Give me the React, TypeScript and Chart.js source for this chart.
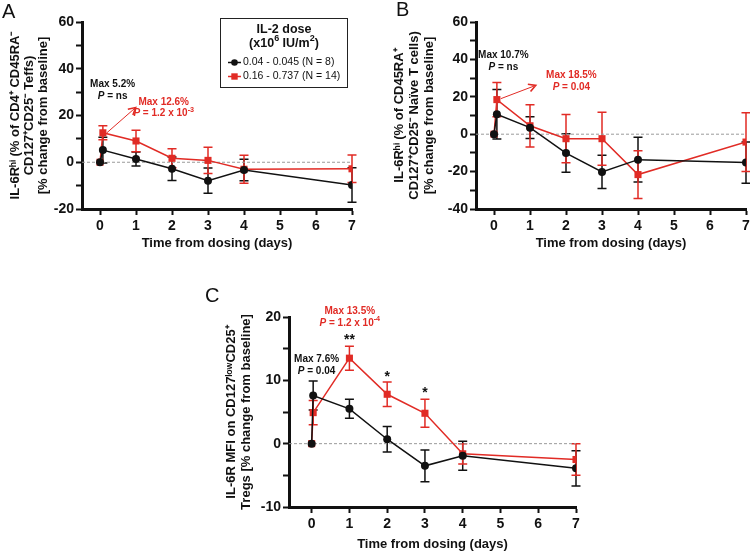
import React, { useEffect, useRef } from 'react';
import { Chart, registerables } from 'chart.js';

Chart.register(...registerables);

const FONT = "'Liberation Sans', Arial, Helvetica, sans-serif";
Chart.defaults.font.family = FONT;

const BLACK = '#111111';
const RED = '#e12b25';
const ZERO = '#9a9a9a';

// ---------- data ----------
const daysAB = [0, 0.08, 1, 2, 3, 4, 7];
const daysC = [0, 0.04, 1, 2, 3, 4, 7];
const xTickValues = [0, 1, 2, 3, 4, 5, 6, 7];

const doseLabels = ['0.04 - 0.045', '0.16 - 0.737'];
const groupN = [8, 14];

// Panel A: IL-6Rhi % of CD4+ CD45RA- CD127+CD25- Teffs
const aLowMean = [0, 5.2, 1.4, -2.8, -7.9, -3.3, -9.7];
const aLowSem = [0, 5.5, 3.0, 5.0, 5.4, 4.6, 7.4];
const aHighMean = [0, 12.6, 9.1, 1.7, 0.8, -3.0, -2.8];
const aHighSem = [0, 3.0, 4.6, 4.1, 5.6, 6.0, 5.9];

// Panel B: IL-6Rhi % of CD45RA+ CD127+CD25- naive T cells
const bLowMean = [0, 10.7, 3.5, -10.1, -20.2, -13.6, -15.2];
const bLowSem = [0, 13.2, 5.8, 10.3, 8.9, 12.0, 11.0];
const bHighMean = [0, 18.5, 4.5, -2.4, -2.4, -21.6, -4.2];
const bHighSem = [0, 9.2, 11.3, 12.9, 14.2, 12.8, 15.7];

// Panel C: IL-6R MFI on CD127low CD25+ Tregs
const cLowMean = [0, 7.6, 5.5, 0.7, -3.5, -1.9, -3.9];
const cLowSem = [0, 2.3, 1.5, 2.0, 2.5, 2.3, 2.8];
const cHighMean = [0, 4.9, 13.5, 7.8, 4.8, -1.6, -2.5];
const cHighSem = [0, 1.9, 1.9, 1.95, 2.2, 1.6, 2.5];

// ---------- types ----------
type Seg = { t: string; i?: boolean; sup?: boolean };
type Note = { x: number; y: number; color: string; lines: Seg[][]; size?: number; dy?: number };
type Arrow = { x1: number; y1: number; x2: number; y2: number; color: string };

type PanelCfg = {
  letter: string;
  letterPos: [number, number];
  box: { left: number; top: number; width: number; height: number };
  pad: { top: number; right: number; bottom: number; left: number };
  yWidth: number;
  xHeight: number;
  yMin: number; yMax: number; yStep: number; yLabelStep: number;
  xMin: number; xMax: number;
  yTitle: string[]; yTitlePadTop: number; yTitleLH: number;
  xTitlePadBottom: number; xTickPad: number;
  days: number[];
  lowMean: number[]; lowSem: number[];
  highMean: number[]; highSem: number[];
  notes: Note[];
  arrows: Arrow[];
  legend: boolean;
};

const P: Seg = { t: 'P', i: true };

const panels: PanelCfg[] = [
  {
    letter: 'A', letterPos: [2, 12.5],
    box: { left: 0, top: 0, width: 375, height: 265 },
    pad: { top: 22, right: 23, bottom: 0, left: 0 },
    yWidth: 82, xHeight: 56,
    yMin: -20, yMax: 60, yStep: 10, yLabelStep: 20,
    xMin: -0.5, xMax: 7,
    yTitle: ['IL-6Rʰⁱ (% of CD4⁺ CD45RA⁻', 'CD127⁺CD25⁻ Teffs)', '[% change from baseline]'],
    yTitlePadTop: 8, yTitleLH: 14,
    xTitlePadBottom: 14, xTickPad: 3,
    days: daysAB,
    lowMean: aLowMean, lowSem: aLowSem, highMean: aHighMean, highSem: aHighSem,
    notes: [
      { x: 0.35, y: 33.2, color: BLACK, lines: [[{ t: 'Max 5.2%' }], [P, { t: ' = ns' }]] },
      { x: 1.77, y: 25.8, color: RED, lines: [[{ t: 'Max 12.6%' }], [P, { t: ' = 1.2 x 10' }, { t: '-3', sup: true }]] },
    ],
    arrows: [{ x1: 0.19, y1: 12.6, x2: 0.99, y2: 23.4, color: RED }],
    legend: true,
  },
  {
    letter: 'B', letterPos: [21, 10],
    box: { left: 375, top: 0, width: 385, height: 265 },
    pad: { top: 22, right: 14, bottom: 0, left: 0 },
    yWidth: 101, xHeight: 56,
    yMin: -40, yMax: 60, yStep: 10, yLabelStep: 20,
    xMin: -0.5, xMax: 7,
    yTitle: ['IL-6Rʰⁱ (% of CD45RA⁺', 'CD127⁺CD25⁻ Naïve T cells)', '[% change from baseline]'],
    yTitlePadTop: 17, yTitleLH: 15,
    xTitlePadBottom: 14, xTickPad: 3,
    days: daysAB,
    lowMean: bLowMean, lowSem: bLowSem, highMean: bHighMean, highSem: bHighSem,
    notes: [
      { x: 0.26, y: 42.2, color: BLACK, lines: [[{ t: 'Max 10.7%' }], [P, { t: ' = ns' }]] },
      { x: 2.15, y: 31.4, color: RED, lines: [[{ t: 'Max 18.5%' }], [P, { t: ' = 0.04' }]] },
    ],
    arrows: [{ x1: 0.19, y1: 19.0, x2: 1.16, y2: 26.1, color: RED }],
    legend: false,
  },
  {
    letter: 'C', letterPos: [10, 11],
    box: { left: 195, top: 285, width: 400, height: 267 },
    pad: { top: 32, right: 19, bottom: 0, left: 0 },
    yWidth: 94, xHeight: 45,
    yMin: -10, yMax: 20, yStep: 5, yLabelStep: 10,
    xMin: -0.6, xMax: 7,
    yTitle: ['IL-6R MFI on CD127ˡᵒʷCD25⁺', 'Tregs [% change from baseline]'],
    yTitlePadTop: 28.5, yTitleLH: 15,
    xTitlePadBottom: 0, xTickPad: 3,
    days: daysC,
    lowMean: cLowMean, lowSem: cLowSem, highMean: cHighMean, highSem: cHighSem,
    notes: [
      { x: 1.01, y: 20.9, color: RED, lines: [[{ t: 'Max 13.5%' }], [P, { t: ' = 1.2 x 10' }, { t: '-4', sup: true }]] },
      { x: 0.13, y: 13.3, color: BLACK, lines: [[{ t: 'Max 7.6%' }], [P, { t: ' = 0.04' }]] },
      { x: 1, y: 16.9, color: BLACK, lines: [[{ t: '**' }]], size: 14, dy: 4 },
      { x: 2, y: 11.2, color: BLACK, lines: [[{ t: '*' }]], size: 14, dy: 4 },
      { x: 3, y: 8.6, color: BLACK, lines: [[{ t: '*' }]], size: 14, dy: 4 },
    ],
    arrows: [],
    legend: false,
  },
];

// ---------- drawing helpers ----------
function segFont(s: Seg, size: number, bold: boolean) {
  const sz = s.sup ? size * 0.72 : size;
  return `${s.i ? 'italic ' : ''}${bold ? 'bold ' : ''}${sz}px ${FONT}`;
}

function drawRich(ctx: CanvasRenderingContext2D, line: Seg[], x0: number, y: number, size: number, color: string, bold: boolean, align: 'center' | 'left') {
  ctx.save();
  ctx.textBaseline = 'middle';
  ctx.textAlign = 'left';
  ctx.fillStyle = color;
  const widths = line.map((s) => {
    ctx.font = segFont(s, size, bold);
    return ctx.measureText(s.t).width;
  });
  const total = widths.reduce((a, b) => a + b, 0);
  let x = align === 'center' ? x0 - total / 2 : x0;
  line.forEach((s, k) => {
    ctx.font = segFont(s, size, bold);
    ctx.fillText(s.t, x, s.sup ? y - size * 0.38 : y);
    x += widths[k];
  });
  ctx.restore();
}

const errorBarPlugin = {
  id: 'errorBars',
  beforeDatasetsDraw(chart: any) {
    const ctx: CanvasRenderingContext2D = chart.ctx;
    const xs = chart.scales.x;
    const ys = chart.scales.y;
    chart.data.datasets.forEach((ds: any, i: number) => {
      const errs: number[] | undefined = ds.errors;
      if (!errs || !chart.isDatasetVisible(i)) return;
      ctx.save();
      ctx.strokeStyle = ds.borderColor;
      ctx.lineWidth = 1.5;
      ds.data.forEach((p: { x: number; y: number }, j: number) => {
        const e = errs[j];
        if (!e) return;
        const x = xs.getPixelForValue(p.x);
        const yt = ys.getPixelForValue(p.y + e);
        const yb = ys.getPixelForValue(p.y - e);
        ctx.beginPath();
        ctx.moveTo(x, yt); ctx.lineTo(x, yb);
        ctx.moveTo(x - 4.5, yt); ctx.lineTo(x + 4.5, yt);
        ctx.moveTo(x - 4.5, yb); ctx.lineTo(x + 4.5, yb);
        ctx.stroke();
      });
      ctx.restore();
    });
  },
};

function makeDecorPlugin(cfg: PanelCfg) {
  return {
    id: 'decor',
    afterDraw(chart: any) {
      const ctx: CanvasRenderingContext2D = chart.ctx;
      const xs = chart.scales.x;
      const ys = chart.scales.y;
      // panel letter
      ctx.save();
      ctx.font = `20px ${FONT}`;
      ctx.fillStyle = BLACK;
      ctx.textBaseline = 'middle';
      ctx.textAlign = 'left';
      ctx.fillText(cfg.letter, cfg.letterPos[0], cfg.letterPos[1]);
      ctx.restore();
      // annotations
      cfg.notes.forEach((n) => {
        const size = n.size ?? 10;
        const cx = xs.getPixelForValue(n.x);
        const cy = ys.getPixelForValue(n.y) + (n.dy ?? 0);
        n.lines.forEach((line, li) => drawRich(ctx, line, cx, cy + li * 11.5, size, n.color, true, 'center'));
      });
      // arrows
      cfg.arrows.forEach((a) => {
        const x1 = xs.getPixelForValue(a.x1), y1 = ys.getPixelForValue(a.y1);
        const x2 = xs.getPixelForValue(a.x2), y2 = ys.getPixelForValue(a.y2);
        const ang = Math.atan2(y2 - y1, x2 - x1);
        ctx.save();
        ctx.strokeStyle = a.color;
        ctx.lineWidth = 1;
        ctx.beginPath(); ctx.moveTo(x1, y1); ctx.lineTo(x2, y2); ctx.stroke();
        ctx.lineWidth = 1.6;
        ctx.beginPath();
        ctx.moveTo(x2 - 8 * Math.cos(ang - 0.5), y2 - 8 * Math.sin(ang - 0.5));
        ctx.lineTo(x2, y2);
        ctx.lineTo(x2 - 8 * Math.cos(ang + 0.5), y2 - 8 * Math.sin(ang + 0.5));
        ctx.stroke();
        ctx.restore();
      });
      // legend
      if (cfg.legend) {
        const bx = 220.5, by = 18.5, bw = 127, bh = 69;
        ctx.save();
        ctx.strokeStyle = '#222';
        ctx.lineWidth = 1;
        ctx.strokeRect(bx, by, bw, bh);
        ctx.restore();
        const cxm = bx + bw / 2;
        drawRich(ctx, [{ t: 'IL-2 dose' }], cxm, 29.5, 12.5, BLACK, true, 'center');
        drawRich(ctx, [{ t: '(x10' }, { t: '6', sup: true }, { t: ' IU/m' }, { t: '2', sup: true }, { t: ')' }], cxm, 43.5, 12.5, BLACK, true, 'center');
        const rows = [62.5, 76.5];
        chart.data.datasets.slice(0, 2).forEach((ds: any, k: number) => {
          const y = rows[k];
          ctx.save();
          ctx.strokeStyle = ds.borderColor;
          ctx.fillStyle = ds.borderColor;
          ctx.lineWidth = 1.5;
          ctx.beginPath(); ctx.moveTo(228, y); ctx.lineTo(241, y); ctx.stroke();
          ctx.beginPath();
          if (ds.pointStyle === 'rect') ctx.rect(234.5 - 3.2, y - 3.2, 6.4, 6.4);
          else ctx.arc(234.5, y, 3.3, 0, Math.PI * 2);
          ctx.fill();
          ctx.restore();
          drawRich(ctx, [{ t: ds.dose }], 243, y, 10.5, BLACK, false, 'left');
          drawRich(ctx, [{ t: `(N = ${ds.n})` }], 302, y, 10.5, BLACK, false, 'left');
        });
      }
    },
  };
}

function buildConfig(cfg: PanelCfg): any {
  const tickFont = { size: 14, weight: 'bold' as const };
  const gridOpts = {
    display: true,
    drawOnChartArea: false,
    drawTicks: true,
    tickLength: 6,
    tickWidth: 2,
    tickColor: BLACK,
  };
  const borderOpts = { display: true, color: BLACK, width: 3 };
  return {
    type: 'line',
    data: {
      datasets: [
        {
          label: `${doseLabels[0]} (N = ${groupN[0]})`,
          dose: doseLabels[0], n: groupN[0],
          data: cfg.days.map((d, i) => ({ x: d, y: cfg.lowMean[i] })),
          errors: cfg.lowSem,
          borderColor: BLACK, backgroundColor: BLACK,
          borderWidth: 1.5, tension: 0,
          pointStyle: 'circle', pointRadius: 4, pointBorderWidth: 0,
          pointBackgroundColor: BLACK,
        },
        {
          label: `${doseLabels[1]} (N = ${groupN[1]})`,
          dose: doseLabels[1], n: groupN[1],
          data: cfg.days.map((d, i) => ({ x: d, y: cfg.highMean[i] })),
          errors: cfg.highSem,
          borderColor: RED, backgroundColor: RED,
          borderWidth: 1.5, tension: 0,
          pointStyle: 'rect', pointRadius: 5, pointBorderWidth: 0,
          pointBackgroundColor: RED,
        },
        {
          label: 'baseline',
          data: [{ x: cfg.xMin, y: 0 }, { x: cfg.xMax, y: 0 }],
          borderColor: ZERO, borderWidth: 1, borderDash: [3, 2],
          pointRadius: 0, tension: 0,
        },
      ],
    },
    options: {
      responsive: false,
      maintainAspectRatio: false,
      animation: false,
      devicePixelRatio: 1,
      layout: { padding: cfg.pad },
      plugins: { legend: { display: false }, tooltip: { enabled: false } },
      scales: {
        x: {
          type: 'linear',
          min: cfg.xMin,
          max: cfg.xMax,
          afterBuildTicks: (s: any) => { s.ticks = xTickValues.map((v) => ({ value: v })); },
          afterFit: (s: any) => { s.height = cfg.xHeight; },
          ticks: { font: tickFont, color: BLACK, padding: cfg.xTickPad, autoSkip: false, maxRotation: 0, callback: (v: any) => String(v) },
          grid: gridOpts,
          border: borderOpts,
          title: {
            display: true,
            text: 'Time from dosing (days)',
            color: BLACK,
            font: { size: 13, weight: 'bold' },
            padding: { top: 0, bottom: cfg.xTitlePadBottom },
          },
        },
        y: {
          min: cfg.yMin,
          max: cfg.yMax,
          afterFit: (s: any) => { s.width = cfg.yWidth; },
          ticks: {
            stepSize: cfg.yStep,
            autoSkip: false,
            font: tickFont,
            color: BLACK,
            padding: 2,
            callback: (v: any) => (Math.abs(Number(v) % cfg.yLabelStep) < 1e-9 ? String(v) : ''),
          },
          grid: gridOpts,
          border: borderOpts,
          title: {
            display: true,
            text: cfg.yTitle,
            color: BLACK,
            font: { size: 13, weight: 'bold', lineHeight: `${cfg.yTitleLH}px` },
            padding: { top: cfg.yTitlePadTop, bottom: 0 },
          },
        },
      },
    },
    plugins: [errorBarPlugin, makeDecorPlugin(cfg)],
  };
}

function Panel({ cfg }: { cfg: PanelCfg }) {
  const ref = useRef<HTMLCanvasElement>(null);
  useEffect(() => {
    if (!ref.current) return;
    const chart = new Chart(ref.current, buildConfig(cfg));
    return () => chart.destroy();
  }, [cfg]);
  const { left, top, width, height } = cfg.box;
  return (
    <canvas
      ref={ref}
      width={width}
      height={height}
      style={{ position: 'absolute', left, top, width, height }}
    />
  );
}

export default function App() {
  return (
    <div
      style={{
        position: 'absolute',
        left: 0,
        top: 0,
        width: 750,
        height: 552,
        overflow: 'hidden',
        background: '#ffffff',
      }}
    >
      {panels.map((p) => (
        <Panel key={p.letter} cfg={p} />
      ))}
    </div>
  );
}
